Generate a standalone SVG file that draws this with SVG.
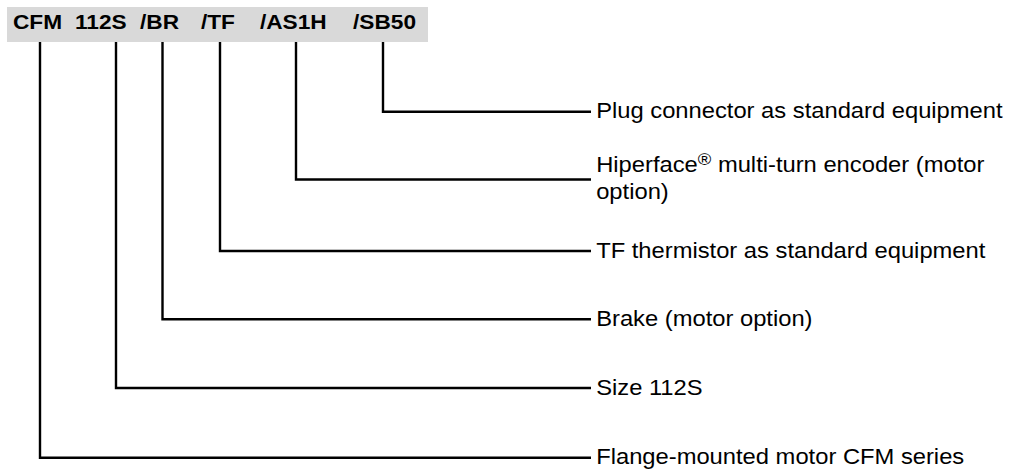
<svg xmlns="http://www.w3.org/2000/svg" width="1017" height="472" viewBox="0 0 1017 472">
<style>
.hd{font-family:"Liberation Sans",Arial,sans-serif;font-weight:bold;font-size:21px;fill:#000}
.lb{font-family:"Liberation Sans",Arial,sans-serif;font-size:22px;fill:#000}
.ln{fill:none;stroke:#000;stroke-width:2.4}
</style>
<rect x="7" y="7" width="421" height="35" fill="#d9d9d9"/>
<g id="code" transform="scale(1.08,1)">
<text class="hd" x="12" y="29">CFM</text>
<text class="hd" x="69.4" y="29">112S</text>
<text class="hd" x="129.6" y="29">/BR</text>
<text class="hd" x="186.1" y="29">/TF</text>
<text class="hd" x="240.7" y="29">/AS1H</text>
<text class="hd" x="326.9" y="29">/SB50</text>
</g>
<g id="connectors">
<path class="ln" d="M383,42 V111.7 H591"/>
<path class="ln" d="M296,42 V179.5 H591"/>
<path class="ln" d="M220,42 V251 H591"/>
<path class="ln" d="M162.5,42 V319.3 H591"/>
<path class="ln" d="M116,42 V388 H591"/>
<path class="ln" d="M40,42 V457.7 H591"/>
</g>
<g id="n-sb50" transform="scale(1.08,1)"><text class="lb" x="552" y="118.5">Plug connector as standard equipment</text></g>
<g id="n-as1h" transform="scale(1.08,1)"><text class="lb" x="552" y="172">Hiperface<tspan font-size="17" dy="-7">®</tspan><tspan dy="7"> multi-turn encoder (motor</tspan></text><text class="lb" x="552" y="199">option)</text></g>
<g id="n-tf" transform="scale(1.08,1)"><text class="lb" x="552" y="258">TF thermistor as standard equipment</text></g>
<g id="n-br" transform="scale(1.08,1)"><text class="lb" x="552" y="326">Brake (motor option)</text></g>
<g id="n-size" transform="scale(1.08,1)"><text class="lb" x="552" y="395">Size 112S</text></g>
<g id="n-cfm" transform="scale(1.08,1)"><text class="lb" x="552" y="464.5">Flange-mounted motor CFM series</text></g>
</svg>
